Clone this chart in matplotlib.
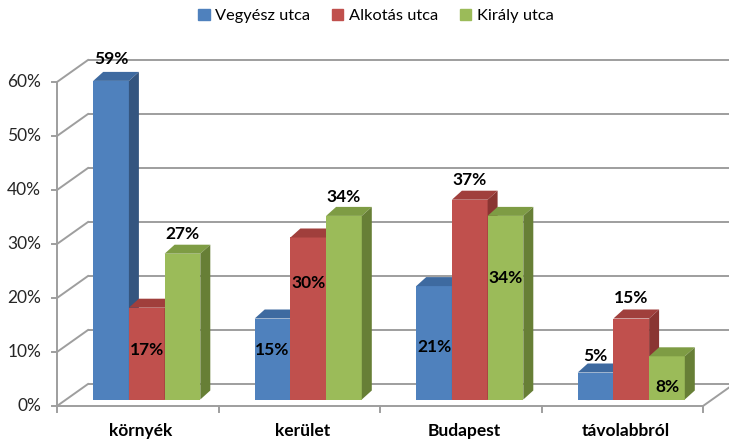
import matplotlib
matplotlib.use("Agg")
import matplotlib.pyplot as plt
from matplotlib.patches import Polygon, Patch

# ---- data ----
categories = ["környék", "kerület", "Budapest", "távolabbról"]
series_names = ["Vegyész utca", "Alkotás utca", "Király utca"]
vegyesz = [59, 15, 21, 5]
alkotas = [17, 30, 37, 15]
kiraly = [27, 34, 34, 8]
y_ticks = [0, 10, 20, 30, 40, 50, 60]

# ---- layout (label anchor heights, axis units) ----
label_y = [
    [64.3, 10.4, 10.9, 9.3],
    [10.4, 22.8, 41.9, 20.0],
    [31.9, 38.7, 23.7, 3.5],
]

front_cols = ["#4F81BD", "#C0504D", "#9BBB59"]
top_cols = ["#3E6AA0", "#A03F3C", "#7E9C44"]
side_cols = ["#34557F", "#8A3532", "#677F36"]
grid_col = "#9E9E9E"
FONT = "Lato"
FS = 12.5

W_PX, H_PX = 729, 444
fig = plt.figure(figsize=(W_PX / 100, H_PX / 100), dpi=100)
ax_left, ax_right, ax_bot, ax_top = 57, 703, 406, 82
ax = fig.add_axes([ax_left / W_PX, (H_PX - ax_bot) / H_PX,
                   (ax_right - ax_left) / W_PX, (ax_bot - ax_top) / H_PX])
ax.set_xlim(0, len(categories))
ax.set_ylim(0, 60)
ax.axis("off")

PXX = (ax_right - ax_left) / len(categories)
PXY = (ax_bot - ax_top) / 60.0


def px(dx, dy):
    return dx / PXX, dy / PXY


DX, DY = px(31, 22)       # wall depth
FX, FY = px(9, 6.5)       # bar front offset into depth
BX, BY = px(10, 9)        # bar depth
W = 35.7 / PXX            # bar width

lw = 1.4
# back wall gridlines and side wall diagonals
for t in y_ticks:
    ax.plot([DX, len(categories) + DX], [t + DY, t + DY], color=grid_col, lw=lw,
            clip_on=False, zorder=1, solid_capstyle="butt")
    ax.plot([0, DX], [t, t + DY], color=grid_col, lw=lw, clip_on=False, zorder=1)
    tx, _ = px(5, 0)
    ax.plot([-tx, 0], [t, t], color=grid_col, lw=lw, clip_on=False, zorder=1)
    ax.text(-px(16, 0)[0], t, f"{t}%", ha="right", va="center", fontsize=FS,
            family=FONT, color="#262626")
# left vertical axis
ax.plot([0, 0], [0, 60], color=grid_col, lw=lw, clip_on=False, zorder=1)
# floor front edge and right edge
ax.plot([0, len(categories)], [0, 0], color=grid_col, lw=lw, clip_on=False, zorder=1)
ax.plot([len(categories), len(categories) + DX], [0, DY], color=grid_col, lw=lw,
        clip_on=False, zorder=1)
# category ticks
_, tky = px(0, 6)
for i in range(len(categories) + 1):
    ax.plot([i, i], [0, -tky], color=grid_col, lw=lw, clip_on=False, zorder=1)
for i, c in enumerate(categories):
    ax.text(i + 0.52, -px(0, 25)[1], c, ha="center", va="center", fontsize=FS,
            fontweight="bold", family=FONT, color="#000000")

all_series = [vegyesz, alkotas, kiraly]
for j, vals in enumerate(all_series):
    lefts = [i + 0.5 - 1.5 * W + FX + j * W for i in range(len(vals))]
    ax.bar(lefts, vals, width=W, bottom=FY, align="edge", color=front_cols[j],
           zorder=3 + j, clip_on=False, linewidth=0)
    for x0, v in zip(lefts, vals):
        top = FY + v
        ax.add_patch(Polygon([(x0, top), (x0 + W, top), (x0 + W + BX, top + BY),
                              (x0 + BX, top + BY)], closed=True, color=top_cols[j],
                             zorder=3 + j, clip_on=False, lw=0))
        ax.add_patch(Polygon([(x0 + W, FY), (x0 + W + BX, FY + BY),
                              (x0 + W + BX, top + BY), (x0 + W, top)], closed=True,
                             color=side_cols[j], zorder=3 + j, clip_on=False, lw=0))
    for x0, v, ly in zip(lefts, vals, label_y[j]):
        ax.text(x0 + W / 2, ly, f"{v}%", ha="center", va="center", fontsize=FS,
                fontweight="bold", family=FONT, color="#000000", zorder=10)

handles = [Patch(color=c, label=n) for c, n in zip(front_cols, series_names)]
fig.legend(handles=handles, loc="center", bbox_to_anchor=(376 / W_PX, 1 - 16 / H_PX),
           ncol=3, frameon=False, prop={"family": FONT, "size": 11.8},
           handlelength=0.7, handleheight=0.7, handletextpad=0.35, columnspacing=1.3)

fig.savefig("out.png", dpi=100)
